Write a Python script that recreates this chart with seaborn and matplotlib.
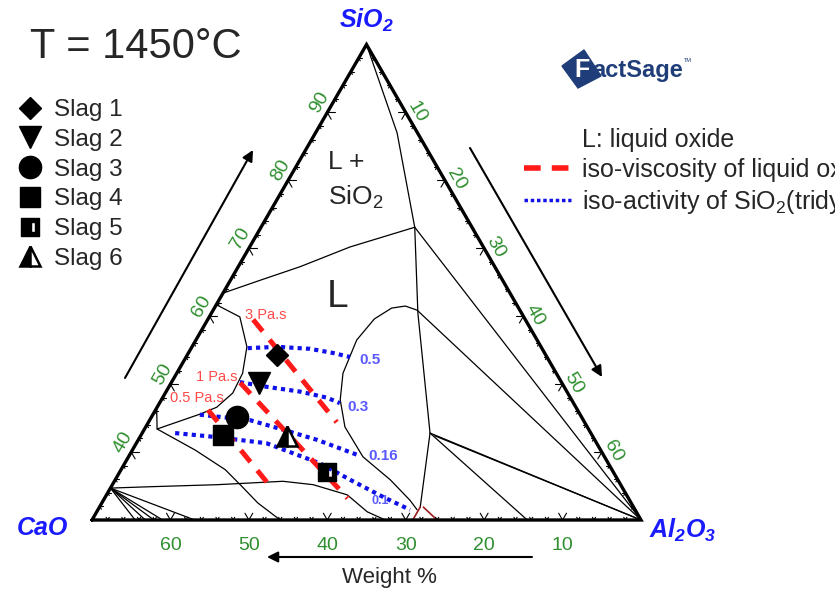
import numpy as np
import matplotlib.pyplot as plt
import seaborn as sns
from matplotlib.lines import Line2D
from matplotlib.path import Path
from matplotlib.patches import Polygon

# slag compositions (wt%)
slag_names = ['Slag 1', 'Slag 2', 'Slag 3', 'Slag 4', 'Slag 5', 'Slag 6']
slag_cao = [34.3, 38.6, 43.9, 47.0, 36.6, 39.0]
slag_al2o3 = [11.4, 11.3, 10.9, 10.5, 26.4, 18.6]
slag_sio2 = [54.3, 50.1, 45.2, 42.5, 37.0, 42.4]

# phase boundaries, (SiO2, Al2O3) wt% pairs, CaO = balance
bnd_apex = [(100, 0), (87.0, 10.4), (73.1, 19.6)]
bnd_left = [(73.1, 19.6), (70.2, 12.8), (67.3, 7.9), (65.3, 3.8), (63.4, 0)]
bnd_corner = [(73.1, 19.6), (30, 70)]
bnd_vert = [(73.1, 19.6), (60.5, 26.3), (42.8, 36.7), (31.9, 40.9)]
bnd_j2_corner = [(42.8, 36.7), (30, 70)]
bnd_j2_corner2 = [(42.4, 37.5), (30, 70)]
bnd_j2_base = [(42.8, 36.7), (30, 55.5)]
bnd_lobe2 = [(31.5, 40.7), (32.9, 39.1), (35.9, 35.1), (39.3, 29.9), (43.7, 25.4),
             (47.7, 22.8), (51.6, 21.2), (56.5, 20.5), (59.6, 21.2), (61.2, 22.6),
             (61.5, 24.2), (60.9, 26.0), (30, 70)]
bnd_lower = [(34.7, 0), (34.9, 5.0), (35.2, 13.4), (35.7, 21.5), (35.2, 25.6),
             (33.7, 30.7), (31.2, 34.5), (30, 37.4)]
bnd_diag = [(43.4, 1.6), (40.3, 8.0), (37.4, 13.3), (34.9, 16.7), (32.5, 19.9), (30, 24.0)]
bnd_lobe1 = [(61.7, 0), (59.9, 3.9), (55.5, 7.0), (51.6, 8.4), (48.7, 8.6), (46.6, 7.6),
             (45.6, 6.0), (44.7, 4.2), (43.4, 1.6), (46.5, 0)]
fan_al2o3 = [5.5, 6.8, 7.9, 9.0, 13.1]
maroon_lines = [[(31.9, 40.9), (30, 40.9)], [(31.9, 41.3), (30, 44.0)]]

# iso-activity of SiO2 (tridymite)
act_levels = ['0.5', '0.3', '0.16', '0.1']
act_05 = [(55.3, 7.2), (55.5, 10.9), (55.2, 15.2), (54.6, 18.4), (54.0, 20.9)]
act_03 = [(50.3, 8.7), (49.6, 12.5), (48.9, 17.1), (48.0, 21.0), (47.2, 23.0)]
act_016 = [(45.5, 6.0), (44.7, 12.8), (43.3, 17.7), (41.8, 22.8), (39.6, 29.0)]
act_01 = [(42.8, 4.2), (42.2, 9.8), (41.3, 16.6), (38.3, 25.0), (35.9, 30.0),
          (33.4, 35.4), (31.5, 39.8)]
act_label_pos = [(53.6, 23.7), (46.6, 25.6), (39.4, 32.4), (32.8, 35.3)]

# iso-viscosity of liquid oxide
visc_levels = ['3 Pa.s', '1 Pa.s', '0.5 Pa.s']
visc_3 = [(59.5, 5.8), (44.4, 24.0)]
visc_1 = [(50.2, 8.8), (33.2, 31.0)]
visc_05 = [(46.2, 6.7), (35.5, 19.6)]
visc_label_pos = [(60.2, 7.1), (51.1, 5.4), (48.0, 4.4)]

tick_vals = [10, 20, 30, 40, 50, 60]
sio2_ticks = [40, 50, 60, 70, 80, 90]

sns.set_style('white')
plt.rcParams['font.family'] = ['Liberation Sans', 'DejaVu Sans']
plt.rcParams['mathtext.fontset'] = 'custom'
plt.rcParams['mathtext.rm'] = 'Liberation Sans'
plt.rcParams['mathtext.it'] = 'Liberation Sans:italic'
plt.rcParams['mathtext.bf'] = 'Liberation Sans:bold'
try:
    plt.rcParams['mathtext.bfit'] = 'Liberation Sans:bold:italic'
except KeyError:
    pass

W, H = 835, 598
S = 549 / 70.0
fig = plt.figure(figsize=(W / 100, H / 100), dpi=100)
ax = fig.add_axes([0, 0, 1, 1])
ax.set_xlim(-92 / S, (W - 92) / S)
ax.set_ylim(-(H - 520) / S, 520 / S)
ax.axis('off')

R3 = np.sqrt(3) / 2
GREEN = '#2f8f2f'
BLUE = '#1a1aff'


def to_xy(sio2, al2o3):
    sio2 = np.asarray(sio2, float)
    al2o3 = np.asarray(al2o3, float)
    return al2o3 + (sio2 - 30) / 2, (sio2 - 30) * R3


def pts(seq):
    arr = np.array(seq, float)
    return to_xy(arr[:, 0], arr[:, 1])


def fpx(x, y):
    return x / W, 1 - y / H


# triangle frame
tx, ty = to_xy([30, 100, 30, 30], [0, 0, 70, 0])
ax.plot(tx, ty, color='k', lw=2.4, solid_joinstyle='miter', zorder=5)

# ticks
for v in range(2, 70, 2):
    L = 1.0 if v % 10 == 0 else 0.4
    for p, dirs in [(to_xy(30, 70 - v), [(0.5, R3), (-0.5, R3)]),
                    (to_xy(30 + v, 0), [(1, 0), (0.5, -R3)]),
                    (to_xy(100 - v, v), [(-1, 0), (-0.5, -R3)])]:
        for d in dirs:
            ax.plot([p[0], p[0] + L * d[0]], [p[1], p[1] + L * d[1]],
                    color='k', lw=0.8, zorder=4)

for c in tick_vals:
    x, y = to_xy(30, 70 - c)
    ax.text(x, y - 3.2, str(c), ha='center', va='center', color=GREEN, fontsize=14)
for s in sio2_ticks:
    x, y = to_xy(s, 0)
    ax.text(x - 1.0, y + 1.3, str(s), ha='center', va='center', color=GREEN,
            fontsize=14, rotation=60, rotation_mode='anchor')
for a in tick_vals:
    x, y = to_xy(100 - a, a)
    ax.text(x + 1.45, y + 0.1, str(a), ha='center', va='center', color=GREEN,
            fontsize=14, rotation=-60, rotation_mode='anchor')

# phase boundaries
for seq in [bnd_apex, bnd_left, bnd_corner, bnd_vert, bnd_j2_corner, bnd_j2_corner2,
            bnd_j2_base, bnd_lobe2, bnd_lower, bnd_diag, bnd_lobe1]:
    x, y = pts(seq)
    sns.lineplot(x=x, y=y, sort=False, estimator=None, color='k', lw=0.9, ax=ax)
for a in fan_al2o3:
    x, y = pts([(34.7, 0), (30, a)])
    sns.lineplot(x=x, y=y, sort=False, estimator=None, color='k', lw=0.9, ax=ax)
for seq in maroon_lines:
    x, y = pts(seq)
    ax.plot(x, y, color='#9b1c1c', lw=1.2)

# iso-activity curves
for seq, lab, pos in zip([act_05, act_03, act_016, act_01], act_levels, act_label_pos):
    x, y = pts(seq)
    ax.plot(x, y, color='#1010e8', lw=3.0, ls=(0, (1, 1)), dash_capstyle='butt', zorder=6)
    lx, ly = to_xy(*pos)
    ax.text(lx, ly, lab, color='#5a5aff', fontsize=9 if lab == '0.1' else 11,
            fontweight='bold', ha='center', va='center')

# iso-viscosity lines
for seq, lab, pos in zip([visc_3, visc_1, visc_05], visc_levels, visc_label_pos):
    x, y = pts(seq)
    ax.plot(x, y, color='#ff1a1a', lw=3.6, ls=(0, (3, 2.2)), dash_capstyle='butt', zorder=6)
    lx, ly = to_xy(*pos)
    ax.text(lx, ly, lab, color='#ff4a4a', fontsize=10.5, ha='center', va='center')

# slag markers
hole = Path([(-1, -1), (1, -1), (1, 1), (-1, 1), (-1, -1),
             (0.1, -0.55), (0.1, 0.55), (0.6, 0.55), (0.6, -0.55), (0.1, -0.55)],
            [Path.MOVETO, Path.LINETO, Path.LINETO, Path.LINETO, Path.CLOSEPOLY,
             Path.MOVETO, Path.LINETO, Path.LINETO, Path.LINETO, Path.CLOSEPOLY])
styles = [dict(marker='D', ms=11), dict(marker='v', ms=16), dict(marker='o', ms=16),
          dict(marker='s', ms=14), dict(marker=hole, ms=13),
          dict(marker='^', ms=15, fillstyle='left', markerfacecoloralt='white',
               mew=1.8)]
handles = []
for i, st in enumerate(styles):
    x, y = to_xy(slag_sio2[i], slag_al2o3[i])
    kw = dict(color='k', mec='k', ls='none', zorder=8)
    kw.update(st)
    h, = ax.plot([x], [y], **kw)
    handles.append(h)

leg1 = ax.legend(handles, slag_names, loc='upper left', bbox_to_anchor=fpx(18, 99),
                 bbox_transform=fig.transFigure, frameon=False, fontsize=17.5,
                 handlelength=1.0, handletextpad=0.5, labelspacing=0.32,
                 borderpad=0, borderaxespad=0)
ax.add_artist(leg1)

lh = [Line2D([], [], color='none'),
      Line2D([], [], color='#ff1a1a', lw=4, ls=(0, (3, 2)), dash_capstyle='butt'),
      Line2D([], [], color='#1010e8', lw=2.5, ls=(0, (1, 0.8)), dash_capstyle='butt')]
ax.legend(lh, ['L: liquid oxide', 'iso-viscosity of liquid oxide',
               'iso-activity of SiO$_2$(tridymite)'],
          loc='upper left', bbox_to_anchor=fpx(524, 128), bbox_transform=fig.transFigure,
          frameon=False, fontsize=18, handlelength=1.88, handletextpad=0.44,
          labelspacing=0.24, borderpad=0, borderaxespad=0)

# texts
fig.text(*fpx(30, 47), 'T = 1450°C', fontsize=30, ha='left', va='center')
fig.text(*fpx(328, 162), 'L +', fontsize=19, ha='left', va='center')
fig.text(*fpx(328, 197), 'SiO$_2$', fontsize=19, ha='left', va='center')
fig.text(*fpx(338, 297), 'L', fontsize=28, ha='center', va='center')
fig.text(*fpx(366, 20), r'SiO$_\mathbfit{2}$', fontsize=18, color=BLUE,
         fontweight='bold', fontstyle='italic', ha='center', va='center')
fig.text(*fpx(42, 528), 'CaO', fontsize=18, color=BLUE, fontweight='bold',
         fontstyle='italic', ha='center', va='center')
fig.text(*fpx(683, 530), r'Al$_\mathbfit{2}$O$_\mathbfit{3}$', fontsize=18, color=BLUE,
         fontweight='bold', fontstyle='italic', ha='center', va='center')
fig.text(*fpx(389, 578), 'Weight %', fontsize=16, ha='center', va='center')

# arrows
for (x0, y0), (x1, y1) in [((125, 378), (253, 150)), ((470, 148), (602, 377)),
                           ((532, 557), (267, 557))]:
    ax.annotate('', xy=fpx(x1, y1), xytext=fpx(x0, y0), xycoords='figure fraction',
                textcoords='figure fraction',
                arrowprops=dict(arrowstyle='-|>', color='k', lw=1.5,
                                mutation_scale=16, shrinkA=0, shrinkB=0))

# FactSage logo
logo = Polygon([fpx(562, 66), fpx(584, 50), fpx(601, 76), fpx(578, 88)], closed=True,
               transform=fig.transFigure, color='#1f3d78', zorder=3)
fig.patches.append(logo)
fig.text(*fpx(582, 70), 'F', fontsize=18, color='white', fontweight='bold',
         ha='center', va='center', zorder=4)
fig.text(*fpx(592, 71), 'actSage', fontsize=17, color='#1f3d78', fontweight='bold',
         ha='left', va='center')
fig.text(*fpx(684, 61), 'TM', fontsize=4, color='#1f3d78', ha='left', va='center')

fig.savefig('out.png', dpi=100)
